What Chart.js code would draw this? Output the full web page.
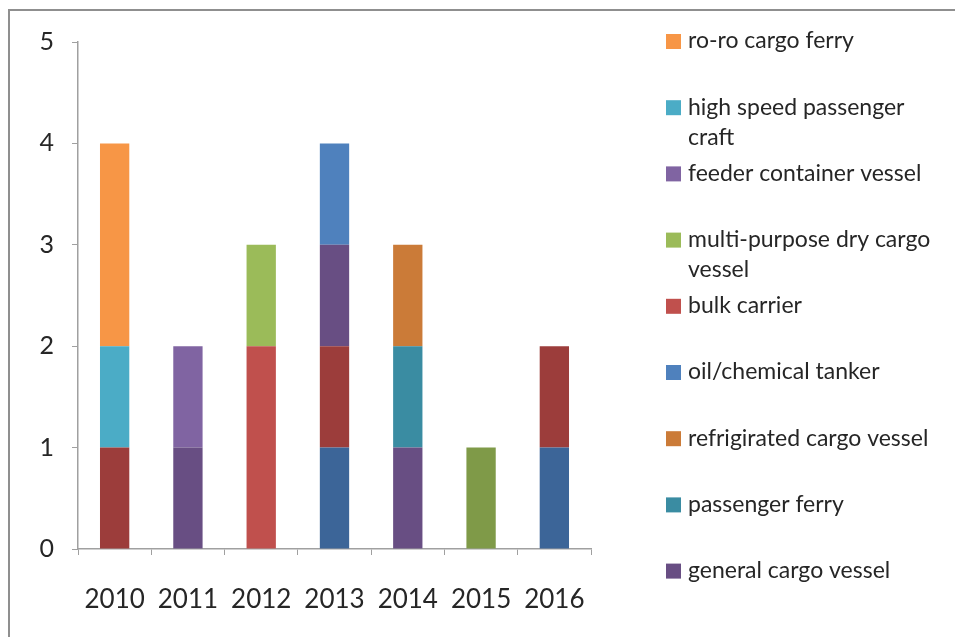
<!DOCTYPE html>
<html>
<head>
<meta charset="utf-8">
<script src="https://cdn.jsdelivr.net/npm/chart.js@4/dist/chart.umd.min.js"></script>
<style>
  html, body { margin: 0; padding: 0; background: #fff; }
  #chart1 { display: block; }
</style>
</head>
<body>
<canvas id="chart1" width="955" height="637"></canvas>
<script>
// vessels delivered per year, by type
var years = ['2010', '2011', '2012', '2013', '2014', '2015', '2016'];
var yTicks = [0, 1, 2, 3, 4, 5];

// stacked bottom to top in this order
var darkBlue      = [0, 0, 0, 1, 0, 0, 1];
var darkRed       = [1, 0, 0, 1, 0, 0, 1];
var generalCargo  = [0, 1, 0, 1, 1, 0, 0];
var bulkCarrier   = [0, 0, 2, 0, 0, 0, 0];
var darkGreen     = [0, 0, 0, 0, 0, 1, 0];
var highSpeed     = [1, 0, 0, 0, 0, 0, 0];
var feederVessel  = [0, 1, 0, 0, 0, 0, 0];
var multiPurpose  = [0, 0, 1, 0, 0, 0, 0];
var oilTanker     = [0, 0, 0, 1, 0, 0, 0];
var passFerry     = [0, 0, 0, 0, 1, 0, 0];
var reefer        = [0, 0, 0, 0, 1, 0, 0];
var roroFerry     = [2, 0, 0, 0, 0, 0, 0];

var series = [
  { label: '', data: darkBlue, color: '#3c6598' },
  { label: '', data: darkRed, color: '#9c3d3b' },
  { label: 'general cargo vessel', data: generalCargo, color: '#684e83' },
  { label: 'bulk carrier', data: bulkCarrier, color: '#c0504d' },
  { label: '', data: darkGreen, color: '#7f9a48' },
  { label: 'high speed passenger craft', data: highSpeed, color: '#4bacc6' },
  { label: 'feeder container vessel', data: feederVessel, color: '#8064a2' },
  { label: 'multi-purpose dry cargo vessel', data: multiPurpose, color: '#9bbb59' },
  { label: 'oil/chemical tanker', data: oilTanker, color: '#4f81bd' },
  { label: 'passenger ferry', data: passFerry, color: '#3a8ca2' },
  { label: 'refrigirated cargo vessel', data: reefer, color: '#cb7b38' },
  { label: 'ro-ro cargo ferry', data: roroFerry, color: '#f79646' }
];

// legend order, top to bottom
var legendOrder = [
  'ro-ro cargo ferry',
  'high speed passenger craft',
  'feeder container vessel',
  'multi-purpose dry cargo vessel',
  'bulk carrier',
  'oil/chemical tanker',
  'refrigirated cargo vessel',
  'passenger ferry',
  'general cargo vessel'
];

var FONT = 'Lato, "Open Sans", sans-serif';
var TEXT = '#262626';

// outer chart border
var frame = {
  id: 'frame',
  beforeDraw: function (chart) {
    var c = chart.ctx;
    c.save();
    c.strokeStyle = '#8f8f8f';
    c.lineWidth = 2;
    c.strokeRect(9, 10, 2000, 2000);
    c.restore();
  }
};

// legend on the right, fixed rows, long names wrapped
var sideLegend = {
  id: 'sideLegend',
  afterDraw: function (chart) {
    var c = chart.ctx;
    c.save();
    c.font = '23px ' + FONT;
    c.textBaseline = 'middle';
    var boxX = 666, textX = 688, maxW = 252;
    legendOrder.forEach(function (name, i) {
      var ds = chart.data.datasets.find(function (d) { return d.label === name; });
      var y = 41 + i * 66.2;
      c.fillStyle = ds.backgroundColor;
      c.fillRect(boxX, y - 7, 15, 15);
      c.fillStyle = TEXT;
      var words = name.split(' '), line = '', lines = [];
      words.forEach(function (w) {
        var t = line ? line + ' ' + w : w;
        if (c.measureText(t).width > maxW && line) { lines.push(line); line = w; }
        else line = t;
      });
      lines.push(line);
      lines.forEach(function (l, k) { c.fillText(l, textX, y + k * 30); });
    });
    c.restore();
  }
};

var ctx = document.getElementById('chart1').getContext('2d');
var myChart = new Chart(ctx, {
  type: 'bar',
  data: {
    labels: years,
    datasets: series.map(function (s) {
      return {
        label: s.label,
        data: s.data,
        backgroundColor: s.color,
        borderWidth: 0,
        categoryPercentage: 1,
        barPercentage: 0.4
      };
    })
  },
  options: {
    responsive: false,
    animation: false,
    devicePixelRatio: 1,
    layout: { padding: { left: 0, top: 42, right: 364, bottom: 0 } },
    plugins: {
      legend: { display: false },
      tooltip: { enabled: false }
    },
    scales: {
      x: {
        stacked: true,
        grid: {
          offset: true,
          drawOnChartArea: false,
          drawTicks: true,
          tickLength: 6,
          color: '#a0a0a0'
        },
        border: { color: '#a0a0a0', width: 1.5 },
        ticks: {
          color: TEXT,
          font: { family: FONT, size: 26 },
          padding: 29,
          maxRotation: 0
        },
        afterFit: function (s) { s.height = 88; }
      },
      y: {
        stacked: true,
        min: 0,
        max: 5,
        grid: {
          drawOnChartArea: false,
          drawTicks: true,
          tickLength: 6,
          color: '#a0a0a0'
        },
        border: { color: '#a0a0a0', width: 1.5 },
        ticks: {
          stepSize: 1,
          color: TEXT,
          font: { family: FONT, size: 25 },
          padding: 18,
          callback: function (v) { return yTicks.indexOf(v) >= 0 ? String(v) : ''; }
        },
        afterFit: function (s) { s.width = 78; }
      }
    }
  },
  plugins: [frame, sideLegend]
});
</script>
</body>
</html>
